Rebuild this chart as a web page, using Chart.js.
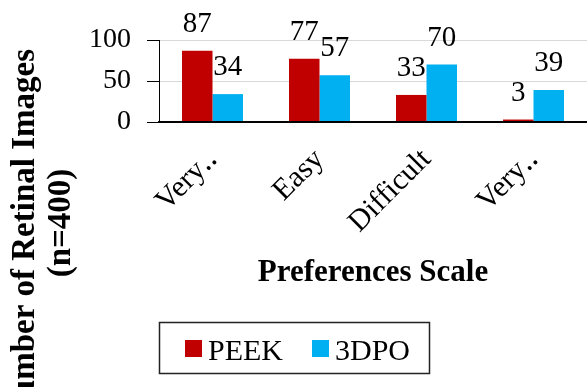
<!DOCTYPE html>
<html>
<head>
<meta charset="utf-8">
<script src="https://cdn.jsdelivr.net/npm/chart.js@4"></script>
<style>
  html, body { margin: 0; padding: 0; background: #fff; }
  canvas { display: block; }
</style>
</head>
<body>
<canvas id="chart" width="587" height="387"></canvas>
<script>
// values
const categories = ['Very‥', 'Easy', 'Difficult', 'Very‥'];
const peekValues = [87, 77, 33, 3];
const dpoValues = [34, 57, 70, 39];
const yTickValues = [0, 50, 100];
const yTitleLines = ['Number of Retinal Images', '(n=400)'];
const xTitle = 'Preferences Scale';

const SERIF = "'Liberation Serif', 'Times New Roman', serif";

// number above each bar
const valueLabels = {
    id: 'valueLabels',
    afterDatasetsDraw(chart) {
        const ctx = chart.ctx;
        ctx.save();
        ctx.font = '29px ' + SERIF;
        ctx.fillStyle = '#000';
        ctx.textAlign = 'center';
        ctx.textBaseline = 'alphabetic';
        chart.data.datasets.forEach((ds, i) => {
            chart.getDatasetMeta(i).data.forEach((bar, j) => {
                ctx.fillText(ds.data[j], bar.x, bar.y - 19);
            });
        });
        ctx.restore();
    }
};

// y title sits far below the plot in the original, so draw it by hand
const yTitle = {
    id: 'yTitle',
    afterDraw(chart) {
        const ctx = chart.ctx;
        ctx.save();
        ctx.font = 'bold 33px ' + SERIF;
        ctx.fillStyle = '#000';
        ctx.textBaseline = 'alphabetic';
        ctx.translate(34, 49);
        ctx.rotate(-Math.PI / 2);
        ctx.textAlign = 'right';
        ctx.fillText(yTitleLines[0], 0, 0);
        ctx.restore();

        ctx.save();
        ctx.font = 'bold 33px ' + SERIF;
        ctx.fillStyle = '#000';
        ctx.translate(70, 223);
        ctx.rotate(-Math.PI / 2);
        ctx.textAlign = 'center';
        ctx.fillText(yTitleLines[1], 0, 0);
        ctx.restore();
    }
};

// boxed legend under the chart
const boxLegend = {
    id: 'boxLegend',
    afterDraw(chart) {
        const ctx = chart.ctx;
        ctx.save();
        ctx.strokeStyle = '#222';
        ctx.lineWidth = 1.5;
        ctx.strokeRect(159.5, 322.5, 270, 51);
        ctx.font = '30px ' + SERIF;
        ctx.textBaseline = 'alphabetic';
        ctx.textAlign = 'left';
        let x = 185;
        chart.data.datasets.forEach(ds => {
            ctx.fillStyle = ds.backgroundColor;
            ctx.fillRect(x, 340, 17, 17);
            ctx.fillStyle = '#000';
            ctx.fillText(ds.label, x + 23, 360);
            x += 23 + ctx.measureText(ds.label).width + 29;
        });
        ctx.restore();
    }
};

new Chart(document.getElementById('chart'), {
    type: 'bar',
    data: {
        labels: categories,
        datasets: [
            { label: 'PEEK', data: peekValues, backgroundColor: '#C00000', borderWidth: 0 },
            { label: '3DPO', data: dpoValues, backgroundColor: '#00B0F0', borderWidth: 0 }
        ]
    },
    options: {
        responsive: false,
        animation: false,
        events: [],
        layout: { padding: { top: 40, left: 0, right: 0, bottom: 0 } },
        datasets: { bar: { categoryPercentage: 0.57, barPercentage: 1.0 } },
        plugins: { legend: { display: false }, tooltip: { enabled: false } },
        scales: {
            x: {
                grid: { display: false, drawTicks: false },
                border: { display: true, color: '#000', width: 2, z: 1 },
                ticks: {
                    color: '#000',
                    font: { family: SERIF, size: 30 },
                    minRotation: 45,
                    maxRotation: 45,
                    padding: 20,
                    autoSkip: false
                },
                title: {
                    display: true,
                    text: xTitle,
                    color: '#000',
                    font: { family: SERIF, size: 31, weight: 'bold' },
                    padding: { top: 0, bottom: 95 }
                },
                afterFit(scale) { scale.height = 265; }
            },
            y: {
                min: yTickValues[0],
                max: yTickValues[yTickValues.length - 1],
                afterBuildTicks(scale) { scale.ticks = yTickValues.map(v => ({ value: v })); },
                grid: { color: '#d9d9d9', lineWidth: 1, tickColor: '#000', tickLength: 12 },
                border: { display: true, color: '#000', width: 1 },
                ticks: { color: '#000', font: { family: SERIF, size: 28 }, padding: 16 },
                afterFit(scale) { scale.width = 159; }
            }
        }
    },
    plugins: [valueLabels, yTitle, boxLegend]
});
</script>
</body>
</html>
